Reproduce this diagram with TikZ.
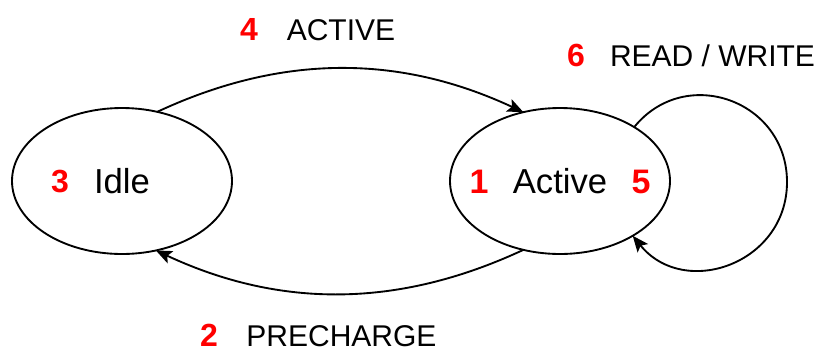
\documentclass[tikz,border=0pt]{standalone}
\usepackage{fontspec}
\setmainfont{Liberation Sans}
\usetikzlibrary{shapes.geometric,arrows.meta}

\definecolor{stepred}{RGB}{255,0,0}

\newdimen\pxu
\pxu=0.75pt

\tikzset{
  state/.style={draw, ellipse, line width=1.4pt, minimum width=220\pxu, minimum height=146\pxu,
                inner sep=0pt, outer sep=0pt, font=\fontsize{26pt}{30pt}\selectfont},
  edge/.style={line width=1.4pt, -{Stealth[length=12pt,width=10pt,inset=2.5pt]}},
  cmd/.style={anchor=base, inner sep=0pt, font=\fontsize{22.5pt}{26pt}\selectfont},
  num/.style={anchor=base, inner sep=0pt, text=stepred, font=\fontsize{24pt}{28pt}\selectfont\bfseries},
  bignum/.style={num, font=\fontsize{25.5pt}{29pt}\selectfont\bfseries},
}

\begin{document}
\begin{tikzpicture}[x=0.75pt, y=-0.75pt]
  \useasboundingbox (0,0) rectangle (822,351);

  % states
  \node[state] (idle)   at (122,181) {Idle};
  \node[state] (active) at (560,181) {Active};

  % step numbers inside the states
  \node[num]    (n3) at (60,192.5)  {3};
  \node[bignum] (n1) at (479,193) {1};
  \node[bignum] (n5) at (641,193) {5};

  % transitions
  \draw[edge] (idle.63) to[out=25, in=155, looseness=0.96] (active.118);
  \draw[edge] (active.242) to[out=-155, in=-25, looseness=0.96] (idle.296);

  % self loop on the active state
  \coordinate (loopR) at (787,182);
  \draw[line width=1.4pt] (active.36) to[out=51, in=90, looseness=1.28] (loopR);
  \draw[edge] (loopR) to[out=-90, in=-51, looseness=1.28] (active.-37);

  % command labels
  \node[num] (n4) at (249,40)    {4};
  \node[cmd] (lact) at (341,40)  {ACTIVE};
  \node[num] (n2) at (209,346) {2};
  \node[cmd] (lpre) at (341.5,346) {PRECHARGE};
  \node[num] (n6) at (576,66)    {6};
  \node[cmd] (lrw) at (712.5,66) {READ / WRITE};
\end{tikzpicture}
\end{document}
